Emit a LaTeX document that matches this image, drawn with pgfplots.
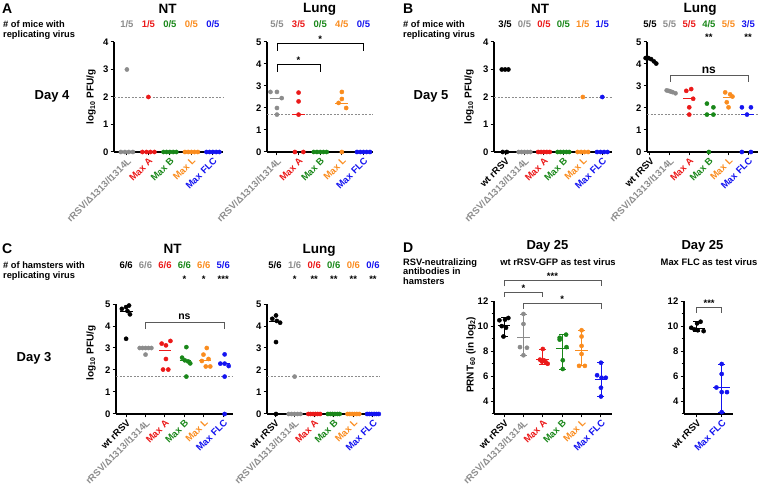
\documentclass[border=0pt]{standalone}
\usepackage{fontspec}
\setmainfont{Liberation Sans}
\usepackage{pgfplots}
\pgfplotsset{compat=1.18}
\definecolor{cgray}{RGB}{140,140,140}
\definecolor{cred}{RGB}{235,25,25}
\definecolor{cgreen}{RGB}{25,135,25}
\definecolor{corange}{RGB}{250,140,30}
\definecolor{cblue}{RGB}{20,20,240}
\definecolor{cbrk}{RGB}{90,90,90}
\newcommand{\fs}[1]{\bfseries\fontsize{#1}{#1}\selectfont}
\newcommand{\LWT}{\textcolor{black}{wt rRSV}}
\newcommand{\LA}{\textcolor{cgray}{rRSV/Δ1313/I1314L}}
\newcommand{\LMA}{\textcolor{cred}{Max A}}
\newcommand{\LMB}{\textcolor{cgreen}{Max B}}
\newcommand{\LML}{\textcolor{corange}{Max L}}
\newcommand{\LMF}{\textcolor{cblue}{Max FLC}}
% header label: x, y(top), yshift, color, text
\newcommand{\hdr}[5]{\node[anchor=base, font=\fs{9.5}, text=#4, yshift=#3] at (axis cs:#1,#2) {#5};}
\pgfplotsset{
  gp/.style={
    scale only axis, clip=false,
    axis x line*=bottom, axis y line*=left,
    axis line style={line width=1.2pt,-},
    tick style={black, line width=1pt},
    major tick length=3.5pt, minor tick length=2.5pt,
    tick align=outside,
    xticklabel style={rotate=45, anchor=north east, inner sep=1pt, font=\fs{9.5}},
    yticklabel style={font=\fs{9.5}, inner sep=2pt},
    /pgf/number format/assume math mode=true,
    ymin=0,
  },
  dots/.style={only marks, mark=*, mark size=2.1pt, color=#1},
  med/.style={#1, line width=0.9pt, mark=none},
  rng/.style={#1, line width=0.8pt, mark=-, mark size=3.5pt, mark options={line width=0.8pt}},
  lod/.style={cgray, line width=0.6pt, dash pattern=on 2pt off 1.5pt, mark=none},
}
\begin{document}
\begin{tikzpicture}
\path[use as bounding box] (0pt,0pt) rectangle (760pt,486pt);
% ---------------- texts A
\node[anchor=base west, font=\fs{14}, inner sep=0] at (2pt,472.7pt) {A};
\node[anchor=base west, font=\fs{9.3}, inner sep=0] at (3pt,458.3pt) {\# of mice with};
\node[anchor=base west, font=\fs{9.3}, inner sep=0] at (3pt,448.7pt) {replicating virus};
\node[anchor=base, font=\fs{13}] at (52pt,386pt) {Day 4};
\node[anchor=base, font=\fs{13.5}] at (167.5pt,472.7pt) {NT};
\node[anchor=base, font=\fs{13.5}] at (319.5pt,473pt) {Lung};
\node[rotate=90, font=\fs{10}] at (91pt,389pt) {log\textsubscript{10} PFU/g};
% ---------------- texts B
\node[anchor=base west, font=\fs{14}, inner sep=0] at (403pt,472.7pt) {B};
\node[anchor=base west, font=\fs{9.3}, inner sep=0] at (403pt,458.3pt) {\# of mice with};
\node[anchor=base west, font=\fs{9.3}, inner sep=0] at (403pt,448.7pt) {replicating virus};
\node[anchor=base, font=\fs{13}] at (431pt,386pt) {Day 5};
\node[anchor=base, font=\fs{13.5}] at (540pt,472.7pt) {NT};
\node[anchor=base, font=\fs{13.5}] at (700pt,473pt) {Lung};
\node[rotate=90, font=\fs{10}] at (469pt,389pt) {log\textsubscript{10} PFU/g};
% ---------------- texts C
\node[anchor=base west, font=\fs{14}, inner sep=0] at (2pt,232.7pt) {C};
\node[anchor=base west, font=\fs{9.3}, inner sep=0] at (3pt,217.3pt) {\# of hamsters with};
\node[anchor=base west, font=\fs{9.3}, inner sep=0] at (3pt,207.3pt) {replicating virus};
\node[anchor=base, font=\fs{13}] at (34pt,124pt) {Day 3};
\node[anchor=base, font=\fs{13.5}] at (172.5pt,232pt) {NT};
\node[anchor=base, font=\fs{13.5}] at (319pt,232pt) {Lung};
\node[rotate=90, font=\fs{10}] at (91pt,133pt) {log\textsubscript{10} PFU/g};
% ---------------- texts D
\node[anchor=base west, font=\fs{14}, inner sep=0] at (403pt,233.7pt) {D};
\node[anchor=base west, font=\fs{9.3}, inner sep=0] at (403pt,220.7pt) {RSV-neutralizing};
\node[anchor=base west, font=\fs{9.3}, inner sep=0] at (403pt,211pt) {antibodies in};
\node[anchor=base west, font=\fs{9.3}, inner sep=0] at (403pt,201pt) {hamsters};
\node[anchor=base, font=\fs{13}] at (547.5pt,236.7pt) {Day 25};
\node[anchor=base, font=\fs{9.4}] at (558pt,220pt) {wt rRSV-GFP as test virus};
\node[anchor=base, font=\fs{13}] at (702.5pt,236.7pt) {Day 25};
\node[anchor=base, font=\fs{9.4}] at (709pt,220pt) {Max FLC as test virus};
\node[rotate=90, font=\fs{10}] at (471pt,131pt) {PRNT\textsubscript{60} (in log\textsubscript{2})};

% ================= A NT
\begin{axis}[gp, at={(114pt,334pt)}, width=109pt, height=110pt,
  xmin=-0.6, xmax=4.47, ymax=4, ytick={0,...,4}, xtick={0,...,4},
  xticklabels={\LA,\LMA,\LMB,\LML,\LMF}]
\addplot[lod] coordinates {(-0.6,2) (4.47,2)};
\addplot[dots=cgray] coordinates {(0,3) (-0.28,0) (-0.09,0) (0.09,0) (0.28,0)};
\addplot[dots=cred] coordinates {(1,2) (0.72,0) (0.91,0) (1.09,0) (1.28,0)};
\addplot[dots=cgreen] coordinates {(1.7,0) (1.85,0) (2,0) (2.15,0) (2.3,0)};
\addplot[dots=corange] coordinates {(2.7,0) (2.85,0) (3,0) (3.15,0) (3.3,0)};
\addplot[dots=cblue] coordinates {(3.7,0) (3.85,0) (4,0) (4.15,0) (4.3,0)};
\hdr{0}{4}{14.7pt}{cgray}{1/5}
\hdr{1}{4}{14.7pt}{cred}{1/5}
\hdr{2}{4}{14.7pt}{cgreen}{0/5}
\hdr{3}{4}{14.7pt}{corange}{0/5}
\hdr{4}{4}{14.7pt}{cblue}{0/5}
\end{axis}

% ================= A Lung
\begin{axis}[gp, at={(267pt,334pt)}, width=106pt, height=110pt,
  xmin=-0.46, xmax=4.44, ymax=5, ytick={0,...,5}, xtick={0,...,4},
  xticklabels={\LA,\LMA,\LMB,\LML,\LMF}]
\addplot[lod] coordinates {(-0.46,1.7) (4.44,1.7)};
\addplot[dots=cgray] coordinates {(-0.3,2.73) (0,2.73) (0.22,2.45) (0,2.0) (0,1.7)};
\addplot[med=cgray] coordinates {(-0.3,2.45) (0.3,2.45)};
\addplot[dots=cred] coordinates {(1,2.7) (1,2.3) (1,1.7) (0.83,0) (1.22,0)};
\addplot[med=cred] coordinates {(0.7,1.7) (1.3,1.7)};
\addplot[dots=cgreen] coordinates {(1.7,0) (1.85,0) (2,0) (2.15,0) (2.3,0)};
\addplot[dots=corange] coordinates {(3,2.73) (3,2.41) (2.85,2.23) (3.2,2.0) (3,0)};
\addplot[med=corange] coordinates {(2.7,2.2) (3.3,2.2)};
\addplot[dots=cblue] coordinates {(3.7,0) (3.85,0) (4,0) (4.15,0) (4.3,0)};
\draw[line width=0.9pt] (axis cs:0,3.65) -- (axis cs:0,3.97) -- (axis cs:2,3.97) -- (axis cs:2,3.65);
\node[anchor=base, font=\fs{9.5}, yshift=1pt] at (axis cs:1,3.97) {*};
\draw[line width=0.9pt] (axis cs:0,4.6) -- (axis cs:0,4.95) -- (axis cs:4,4.95) -- (axis cs:4,4.6);
\node[anchor=base, font=\fs{9.5}, yshift=1pt] at (axis cs:2,4.95) {*};
\hdr{0}{5}{14.7pt}{cgray}{5/5}
\hdr{1}{5}{14.7pt}{cred}{3/5}
\hdr{2}{5}{14.7pt}{cgreen}{0/5}
\hdr{3}{5}{14.7pt}{corange}{4/5}
\hdr{4}{5}{14.7pt}{cblue}{0/5}
\end{axis}

% ================= B NT
\begin{axis}[gp, at={(494pt,334pt)}, width=118pt, height=110pt,
  xmin=-0.57, xmax=5.5, ymax=4, ytick={0,...,4}, xtick={0,...,5},
  xticklabels={\LWT,\LA,\LMA,\LMB,\LML,\LMF}]
\addplot[lod] coordinates {(-0.57,2) (5.5,2)};
\addplot[dots=black] coordinates {(-0.17,3) (0,3) (0.17,3) (-0.12,0) (0.09,0)};
\addplot[dots=cgray] coordinates {(0.7,0) (0.85,0) (1,0) (1.15,0) (1.3,0)};
\addplot[dots=cred] coordinates {(1.7,0) (1.85,0) (2,0) (2.15,0) (2.3,0)};
\addplot[dots=cgreen] coordinates {(2.7,0) (2.85,0) (3,0) (3.15,0) (3.3,0)};
\addplot[dots=corange] coordinates {(4,2) (3.73,0) (3.91,0) (4.09,0) (4.27,0)};
\addplot[dots=cblue] coordinates {(5,2) (4.73,0) (4.91,0) (5.09,0) (5.27,0)};
\hdr{0}{4}{14.7pt}{black}{3/5}
\hdr{1}{4}{14.7pt}{cgray}{0/5}
\hdr{2}{4}{14.7pt}{cred}{0/5}
\hdr{3}{4}{14.7pt}{cgreen}{0/5}
\hdr{4}{4}{14.7pt}{corange}{1/5}
\hdr{5}{4}{14.7pt}{cblue}{1/5}
\end{axis}

% ================= B Lung
\begin{axis}[gp, at={(647pt,334pt)}, width=111pt, height=110pt,
  xmin=-0.15, xmax=5.5, ymax=5, ytick={0,...,5}, xtick={0,...,5},
  xticklabels={\LWT,\LA,\LMA,\LMB,\LML,\LMF}]
\addplot[lod] coordinates {(-0.15,1.7) (5.5,1.7)};
\addplot[dots=black] coordinates {(-0.22,4.27) (-0.08,4.27) (0.06,4.22) (0.2,4.12) (0.32,4.02)};
\addplot[dots=cgray] coordinates {(0.85,2.8) (0.95,2.78) (1.05,2.75) (1.15,2.72) (1.3,2.67)};
\addplot[dots=cred] coordinates {(1.85,2.78) (2.1,2.86) (2.2,2.42) (2,2.03) (2,1.7)};
\addplot[med=cred] coordinates {(1.7,2.42) (2.3,2.42)};
\addplot[dots=cgreen] coordinates {(2.9,2.2) (3.23,2.03) (2.9,1.7) (3.23,1.7) (3,0)};
\addplot[med=cgreen] coordinates {(2.75,1.7) (3.35,1.7)};
\addplot[dots=corange] coordinates {(3.83,2.71) (4.08,2.62) (4.2,2.52) (3.91,2.26) (4,2.03)};
\addplot[med=corange] coordinates {(3.7,2.5) (4.3,2.5)};
\addplot[dots=cblue] coordinates {(4.68,2.03) (5.14,2.03) (4.94,1.7) (4.68,0) (5.14,0)};
\addplot[med=cblue] coordinates {(4.65,1.7) (5.3,1.7)};
\draw[cbrk, line width=0.9pt] (axis cs:1.03,3.2) -- (axis cs:1.03,3.47) -- (axis cs:5.0,3.47) -- (axis cs:5.0,3.2);
\node[anchor=base, font=\fs{12}, yshift=2.5pt] at (axis cs:3.0,3.47) {ns};
\hdr{0}{5}{14.7pt}{black}{5/5}
\hdr{1}{5}{14.7pt}{cgray}{5/5}
\hdr{2}{5}{14.7pt}{cred}{5/5}
\hdr{3}{5}{14.7pt}{cgreen}{4/5}
\hdr{4}{5}{14.7pt}{corange}{5/5}
\hdr{5}{5}{14.7pt}{cblue}{3/5}
\hdr{3}{5}{1pt}{black}{**}
\hdr{5}{5}{1pt}{black}{**}
\end{axis}

% ================= C NT
\begin{axis}[gp, at={(116pt,72pt)}, width=117pt, height=110pt,
  xmin=-0.52, xmax=5.5, ymax=5, ytick={0,...,5}, xtick={0,...,5},
  xticklabels={\LWT,\LA,\LMA,\LMB,\LML,\LMF}]
\addplot[lod] coordinates {(-0.52,1.7) (5.5,1.7)};
\addplot[dots=black] coordinates {(-0.22,4.78) (0,4.86) (0.15,4.93) (0.07,4.68) (0.2,4.53) (0,3.42)};
\addplot[med=black] coordinates {(-0.3,4.68) (0.35,4.68)};
\addplot[dots=cgray] coordinates {(0.7,3.0) (0.85,3.0) (1,3.0) (1.15,3.0) (1.3,3.0) (1,2.7)};
\addplot[med=cgray] coordinates {(0.65,3.0) (1.35,3.0)};
\addplot[dots=cred] coordinates {(1.83,3.2) (2.05,3.12) (2.28,3.32) (2.05,2.5) (1.9,2.02) (2.17,2.02)};
\addplot[med=cred] coordinates {(1.7,2.9) (2.32,2.9)};
\addplot[dots=cgreen] coordinates {(3.1,3.04) (2.88,2.56) (3.02,2.44) (3.19,2.39) (3.3,2.3) (3.1,1.7)};
\addplot[med=cgreen] coordinates {(2.75,2.44) (3.35,2.44)};
\addplot[dots=corange] coordinates {(4.15,3.0) (3.98,2.7) (4.24,2.5) (3.9,2.41) (4.1,2.16) (4.33,2.16)};
\addplot[med=corange] coordinates {(3.75,2.44) (4.35,2.44)};
\addplot[dots=cblue] coordinates {(5.07,2.71) (4.85,2.29) (5.07,2.29) (5.28,2.18) (5.07,1.7) (5.07,0)};
\addplot[med=cblue] coordinates {(4.75,2.29) (5.35,2.29)};
\draw[cbrk, line width=0.9pt] (axis cs:1,3.88) -- (axis cs:1,4.18) -- (axis cs:5.07,4.18) -- (axis cs:5.07,3.88);
\node[anchor=base, font=\fs{10.5}, yshift=2.5pt] at (axis cs:3,4.18) {ns};
\hdr{0}{5}{35.7pt}{black}{6/6}
\hdr{1}{5}{35.7pt}{cgray}{6/6}
\hdr{2}{5}{35.7pt}{cred}{6/6}
\hdr{3}{5}{35.7pt}{cgreen}{6/6}
\hdr{4}{5}{35.7pt}{corange}{6/6}
\hdr{5}{5}{35.7pt}{cblue}{5/6}
\hdr{3}{5}{22pt}{black}{*}
\hdr{4}{5}{22pt}{black}{*}
\hdr{5}{5}{22pt}{black}{***}
\end{axis}

% ================= C Lung
\begin{axis}[gp, at={(267pt,72pt)}, width=113pt, height=110pt,
  xmin=-0.41, xmax=5.36, ymax=5, ytick={0,...,5}, xtick={0,...,5},
  xticklabels={\LWT,\LA,\LMA,\LMB,\LML,\LMF}]
\addplot[lod] coordinates {(-0.41,1.7) (5.36,1.7)};
\addplot[dots=black] coordinates {(-0.14,4.33) (0.05,4.48) (0.09,4.23) (0.26,4.15) (0.05,3.27) (0.05,0)};
\addplot[med=black] coordinates {(-0.3,4.2) (0.25,4.2)};
\addplot[dots=cgray] coordinates {(1,1.7) (0.7,0) (0.85,0) (1,0) (1.15,0) (1.3,0)};
\addplot[dots=cred] coordinates {(1.7,0) (1.82,0) (1.94,0) (2.06,0) (2.18,0) (2.3,0)};
\addplot[dots=cgreen] coordinates {(2.7,0) (2.82,0) (2.94,0) (3.06,0) (3.18,0) (3.3,0)};
\addplot[dots=corange] coordinates {(3.7,0) (3.82,0) (3.94,0) (4.06,0) (4.18,0) (4.3,0)};
\addplot[dots=cblue] coordinates {(4.7,0) (4.82,0) (4.94,0) (5.06,0) (5.18,0) (5.3,0)};
\hdr{0}{5}{35.7pt}{black}{5/6}
\hdr{1}{5}{35.7pt}{cgray}{1/6}
\hdr{2}{5}{35.7pt}{cred}{0/6}
\hdr{3}{5}{35.7pt}{cgreen}{0/6}
\hdr{4}{5}{35.7pt}{corange}{0/6}
\hdr{5}{5}{35.7pt}{cblue}{0/6}
\hdr{1}{5}{22pt}{black}{*}
\hdr{2}{5}{22pt}{black}{**}
\hdr{3}{5}{22pt}{black}{**}
\hdr{4}{5}{22pt}{black}{**}
\hdr{5}{5}{22pt}{black}{**}
\end{axis}

% ================= D left
\begin{axis}[gp, at={(494pt,72pt)}, width=118pt, height=112.5pt,
  xmin=-0.52, xmax=5.57, ymin=3, ymax=12, ytick={4,6,...,12}, minor ytick={3,5,...,11}, xtick={0,...,5},
  xticklabels={\LWT,\LA,\LMA,\LMB,\LML,\LMF}]
\addplot[rng=black] coordinates {(0,9.2) (0,10.7)};
\addplot[med=black] coordinates {(-0.33,10.12) (0.33,10.12)};
\addplot[dots=black] coordinates {(-0.24,10.5) (0.05,10.55) (0.22,10.68) (-0.12,10.03) (0.1,9.9) (-0.03,9.2)};
\addplot[rng=cgray] coordinates {(1,7.7) (1,11.0)};
\addplot[med=cgray] coordinates {(0.67,9.1) (1.33,9.1)};
\addplot[dots=cgray] coordinates {(1,11.0) (1,10.2) (0.82,8.35) (1.18,8.3) (1,7.7)};
\addplot[rng=cred] coordinates {(2,7.0) (2,8.2)};
\addplot[med=cred] coordinates {(1.67,7.35) (2.33,7.35)};
\addplot[dots=cred] coordinates {(2,8.2) (1.85,7.35) (2.05,7.3) (2.15,7.15) (2.25,7.02) (1.95,7.2)};
\addplot[rng=cgreen] coordinates {(3,6.6) (3,9.35)};
\addplot[med=cgreen] coordinates {(2.67,8.22) (3.33,8.22)};
\addplot[dots=cgreen] coordinates {(3.2,9.35) (2.87,9.1) (2.87,8.95) (3.22,8.35) (3.03,7.3) (3.03,6.6)};
\addplot[rng=corange] coordinates {(4,6.85) (4,9.7)};
\addplot[med=corange] coordinates {(3.67,8.1) (4.33,8.1)};
\addplot[dots=corange] coordinates {(4,9.7) (4,9.2) (4,8.45) (4,7.8) (3.87,6.85) (4.17,6.85)};
\addplot[rng=cblue] coordinates {(5,4.4) (5,7.1)};
\addplot[med=cblue] coordinates {(4.67,5.78) (5.33,5.78)};
\addplot[dots=cblue] coordinates {(5,7.1) (4.8,6.1) (5.03,5.9) (5.25,5.9) (5,5.1) (5,4.4)};
\draw[cbrk, line width=0.8pt] (axis cs:0,13.2) -- (axis cs:0,13.7) -- (axis cs:5,13.7) -- (axis cs:5,13.2);
\node[anchor=base, font=\fs{9.5}, yshift=1pt] at (axis cs:2.5,13.7) {***};
\draw[cbrk, line width=0.8pt] (axis cs:0,12.37) -- (axis cs:0,12.75) -- (axis cs:2,12.75) -- (axis cs:2,12.37);
\node[anchor=base, font=\fs{9.5}, yshift=1pt] at (axis cs:1,12.75) {*};
\draw[cbrk, line width=0.8pt] (axis cs:1,11.41) -- (axis cs:1,11.84) -- (axis cs:5,11.84) -- (axis cs:5,11.41);
\node[anchor=base, font=\fs{9.5}, yshift=1pt] at (axis cs:3,11.84) {*};
\end{axis}

% ================= D right
\begin{axis}[gp, at={(684pt,72pt)}, width=49pt, height=112.5pt,
  xmin=-0.5, xmax=1.45, ymin=3, ymax=12, ytick={4,6,...,12}, minor ytick={3,5,...,11}, xtick={0,1},
  xticklabels={\LWT,\LMF}]
\addplot[rng=black] coordinates {(0,9.6) (0,10.4)};
\addplot[med=black] coordinates {(-0.3,9.81) (0.33,9.81)};
\addplot[dots=black] coordinates {(0.16,10.38) (0.02,10.25) (-0.21,9.9) (-0.08,9.76) (0.05,9.7) (0.28,9.63)};
\addplot[rng=cblue] coordinates {(1,3.15) (1,7.0)};
\addplot[med=cblue] coordinates {(0.67,5.15) (1.33,5.15)};
\addplot[dots=cblue] coordinates {(1,7.0) (1,6.2) (0.79,5.12) (1,4.75) (1.21,4.75) (1,3.15)};
\draw[cbrk, line width=0.8pt] (axis cs:0,11.09) -- (axis cs:0,11.49) -- (axis cs:1,11.49) -- (axis cs:1,11.09);
\node[anchor=base, font=\fs{9.5}, yshift=1pt] at (axis cs:0.5,11.49) {***};
\end{axis}
\end{tikzpicture}
\end{document}
